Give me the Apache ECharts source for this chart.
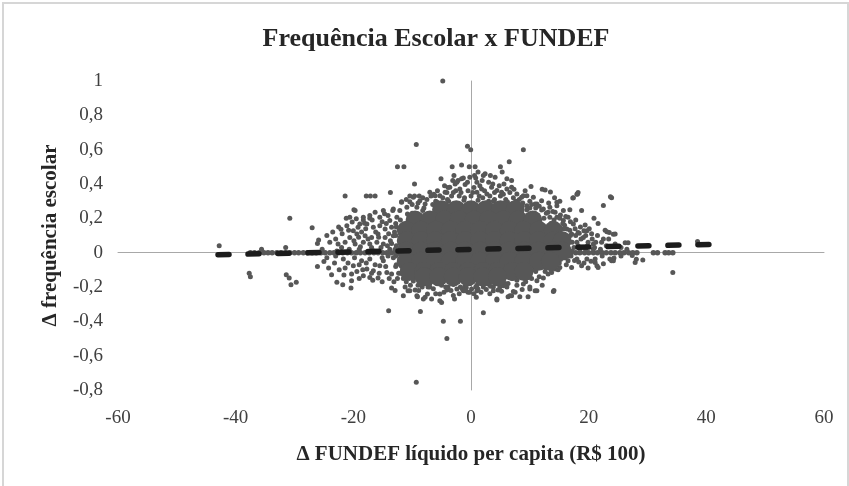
<!DOCTYPE html>
<html>
<head>
<meta charset="utf-8">
<script src="https://cdn.jsdelivr.net/npm/echarts@6/dist/echarts.min.js"></script>
<style>
  html, body { margin: 0; padding: 0; background: #fff; }
  #wrap { position: relative; width: 849px; height: 486px; overflow: hidden; }
  #chart { position: absolute; left: 0; top: 0; width: 849px; height: 486px; }
  #frame { position: absolute; left: 2px; top: 2px; width: 843px; height: 490px; border: 2px solid #d6d6d6; pointer-events: none; }
</style>
</head>
<body>
<div id="wrap"><div id="chart"></div><div id="frame"></div></div>
<script>
// ---- Data ----
const chartTitle = 'Frequência Escolar x FUNDEF';
const xAxisName = 'Δ FUNDEF líquido per capita (R$ 100)';
const yAxisName = 'Δ frequência escolar';
const xTicks = [-60, -40, -20, 0, 20, 40, 60];
const yTicks = [-0.8, -0.6, -0.4, -0.2, 0, 0.2, 0.4, 0.6, 0.8, 1];

// Dense centre of the cloud (overlapping municipalities)
const corePoints = [
  [-5,0.25],[-2.5,0.25],[0,0.25],[2.5,0.25],[5,0.25],[7.5,0.25],
  [-9.5,0.19],[-7,0.19],[-4.5,0.19],[-2,0.19],[0.5,0.19],[3,0.19],[5.5,0.19],[8,0.19],[10.5,0.19],
  [-11,0.13],[-8.5,0.13],[-6,0.13],[-3.5,0.13],[-1,0.13],[1.5,0.13],[4,0.13],[6.5,0.13],[9,0.13],[11.5,0.13],[14,0.13],
  [-11,0.07],[-8.5,0.07],[-6,0.07],[-3.5,0.07],[-1,0.07],[1.5,0.07],[4,0.07],[6.5,0.07],[9,0.07],[11.5,0.07],[14,0.07],[15.5,0.07],
  [-11,0.01],[-8.5,0.01],[-6,0.01],[-3.5,0.01],[-1,0.01],[1.5,0.01],[4,0.01],[6.5,0.01],[9,0.01],[11.5,0.01],[14,0.01],[15.5,0.01],
  [-11,-0.05],[-8.5,-0.05],[-6,-0.05],[-3.5,-0.05],[-1,-0.05],[1.5,-0.05],[4,-0.05],[6.5,-0.05],[9,-0.05],[11.5,-0.05],[13.5,-0.05],
  [-10.5,-0.11],[-8,-0.11],[-5.5,-0.11],[-3,-0.11],[-0.5,-0.11],[2,-0.11],[4.5,-0.11],[7,-0.11],[9,-0.11],
  [-8,-0.14],[-5.5,-0.14],[-3,-0.14],[-0.5,-0.14],[2,-0.14],[4.5,-0.14]
];

// Municipalities packed along the edge of the dense centre
const edgePoints = [
  [-6.5,0.28],[-3.8,0.3],[-1.2,0.305],[1.2,0.305],[3.8,0.3],[6.2,0.295],[8.7,0.27],
  [-8.2,0.245],[-10.8,0.225],[-12,0.19],[-5.8,0.295],
  [-12.7,0.15],[-12.8,0.1],[-12.7,0.04],[-12.8,-0.02],[-12.7,-0.07],[-12.3,-0.12],
  [-11.5,-0.15],[-9.8,-0.165],[-8.5,-0.185],
  [-7,-0.2],[-4.3,-0.2],[-1.8,-0.2],[0.8,-0.2],[3.3,-0.195],[5.8,-0.18],
  [7.8,-0.16],[9.8,-0.145],[10.8,-0.1],[12.7,-0.09],[14.5,-0.075],[15.2,-0.04],[16.6,-0.02],
  [17.2,0.01],[17.2,0.06],[16.9,0.1],[15.8,0.14],[13.6,0.17],[12.4,0.2],[10.8,0.23],[9.5,0.25]
];

// Municipalities with zero change in attendance
const zeroBandPoints = [
  [-37.5,0],[-36.8,0],[-36,0],[-35.2,0],[-34.5,0],[-33.8,0],[-33,0],[-32.3,0],[-31.5,0],[-30.8,0],
  [-30,0],[-29.3,0],[-28.5,0],[-27.8,0],[-27,0],[-26.3,0],[-25.5,0],[-24.8,0],[-24,0],[-23.3,0],
  [-22.5,0],[-21.8,0],[-21,0],[-20.3,0],[-19.5,0],[-18.8,0],[-18,0],[-17.3,0],[-16.5,0],[-15.8,0],
  [-15,0],[-14.3,0],[-13.5,0],[-12.8,0],
  [17,0],[17.8,0],[18.5,0],[19.3,0],[20,0],[20.8,0],[21.5,0],[22.3,0],[23,0],[23.8,0],[24.5,0],
  [25.3,0],[26,0],[26.8,0],[27.5,0],[28.2,0],[31,0],[31.7,0],[33,0],[33.6,0],[34.3,0]
];

// Isolated outliers
const outlierPoints = [
  [-4.8,1.0],[-9.3,0.63],[-0.6,0.62],[-0.05,0.6],[8.9,0.6],[-12.5,0.5],[-11.4,0.5],[-3.2,0.5],
  [-1.6,0.51],[-0.3,0.5],[0.7,0.5],[6.5,0.53],[5.0,0.5],[5.3,0.47],
  [-21.4,0.33],[-17.8,0.33],[-17.1,0.33],[-16.3,0.33],[-13.7,0.35],[-9.6,0.4],[-10.4,0.33],[-9.6,0.33],[-8.8,0.33],
  [10.2,0.385],[12.1,0.37],[12.6,0.365],[13.5,0.354],[18.0,0.34],[17.4,0.32],[23.9,0.32],[22.5,0.275],[18.8,0.245],
  [-42.8,0.04],[-37.7,-0.12],[-37.5,-0.14],[-35.6,0.02],[-31.5,0.03],[-30.8,0.2],[-31.4,-0.128],[-30.9,-0.148],
  [-29.7,-0.173],[-30.6,-0.187],[-27,0.145],[-26.1,0.054],[-25.9,0.074],[-24.5,0.1],[-26.1,-0.08],[-25,-0.051],
  [-23.7,-0.128],[-22.8,-0.173],
  [-14,-0.338],[-8.6,-0.342],[-4.7,-0.4],[-1.8,-0.4],[-4.1,-0.5],[2.1,-0.35],[-9.3,-0.755],
  [38.5,0.065],[34.3,-0.115],[27.9,-0.057],[29.2,-0.043],[23.7,0.326],[22.8,0.13],[23.5,0.117],[24.2,0.107],
  [26.2,0.058],[26.7,0.058],[28.1,-0.039],[27.4,-0.016],[14.1,-0.22]
];

// Left side of the cloud
const leftPoints = [
  [-19.9,0.25],[-19.5,0.197],[-18.3,0.19],[-18.1,0.171],[-17.2,0.216],[-14.7,0.226],[-13.3,0.245],[-12.1,0.245],
  [-11.8,0.297],[-10.4,0.297],[-22.5,0.15],[-22.1,0.136],[-20.2,0.179],
  [-14.9,0.245],[-14.1,0.216],[-13.2,0.255],[-12.6,0.206],[-13.8,0.187],[-15.5,0.206],[-16.3,0.235],[-17.2,0.2],
  [-18.3,0.206],[-18.9,0.167],[-19.7,0.245],[-20.6,0.206],
  [-21.1,0.157],[-20,0.128],[-19.2,0.148],[-17.7,0.167],[-16.6,0.148],[-15.5,0.157],[-14.6,0.138],[-13.5,0.148],
  [-20.6,0.089],[-19.4,0.109],[-18,0.099],[-16.9,0.089],[-15.8,0.109],[-14.6,0.089],[-13.2,0.099],
  [-21.4,0.06],[-19.7,0.051],[-18.3,0.06],[-17.2,0.051],[-16,0.06],[-14.9,0.051],[-13.5,0.054],
  [-21.7,-0.037],[-21.4,-0.089],[-20,-0.076],[-19.4,-0.109],[-18.3,-0.134],[-17.2,-0.144],[-15.8,-0.148],
  [-20.3,-0.124],[-17.7,-0.095],[-16.6,-0.105],[-15.5,-0.076],[-14.3,-0.115],[-13.5,-0.124],[-14.9,-0.047],
  [-17.2,-0.037],[-18.6,-0.047],[-21.8,-0.187],[-20.4,-0.206],[-20.3,-0.163],[-13.5,-0.206],
  [-12.8,0.17],[-13,0.12],[-12.9,0.02],[-13.2,-0.03],[-12.8,-0.08],[-12.5,-0.15],[-13.8,0.02],[-16.5,0.01],
  [-19,0.02],[-22,0.03],[-23,-0.02],[-24.5,-0.03],
  [-23.5,0.12],[-23,0.08],[-22.6,0.05],[-21.9,0.11],[-21.2,0.2],[-20.8,0.13],[-19.9,0.07],[-19.1,0.09],
  [-18.6,0.12],[-17.9,0.14],[-17.5,0.08],[-16.8,0.19],[-16.2,0.12],[-15.7,0.09],[-15.1,0.18],[-14.4,0.17],
  [-14,0.11],[-13.7,0.07],[-14.2,0.04],[-15.3,0.03],[-16.9,0.03],[-18.8,0.035],[-20.7,0.02],[-22.8,0.01],
  [-23.2,-0.06],[-22.4,-0.1],[-21.6,-0.13],[-20.9,-0.06],[-19.8,-0.03],[-19,-0.07],[-18.4,-0.1],[-17.8,-0.06],
  [-16.9,-0.12],[-16.3,-0.07],[-15.6,-0.12],[-15.1,-0.03],[-14.5,-0.08],[-13.9,-0.15],[-14.1,-0.02],[-13.1,-0.17],
  [-12.9,-0.22],[-15.1,-0.17],[-16.7,-0.16],[-19,-0.15],[-24.2,-0.09],[-25.3,0.02],[-24,0.06]
];

// Upper edge of the cloud
const topPoints = [
  [-7,0.352],[-6.1,0.332],[-5.3,0.332],[-4.4,0.352],[-3.6,0.381],[-2.7,0.4],[-2.2,0.42],[-1.3,0.435],[-1.9,0.371],[-1,0.397],
  [1,0.352],[1.8,0.371],[2.7,0.342],[3.5,0.381],[4.4,0.362],[5.2,0.352],[6.1,0.371],[6.9,0.381],[7.8,0.342],[8.6,0.323],
  [9.5,0.332],[10.6,0.323],[-9.8,0.323],[-8.7,0.303],[-7.8,0.284],[-9.2,0.264],[-10.9,0.264],[-11.8,0.293],
  [-5.1,0.43],[-2.4,0.41],[-1.6,0.43],[0.8,0.435],[1,0.41],[2.1,0.45],[1.9,0.42],[-3.9,0.38],[-4.1,0.35],
  [2.4,0.46],[3.7,0.4],[6.1,0.43],[6.9,0.42],[5.6,0.4],[-6.3,0.34],
  [12,0.303],[15.1,0.3],[14.6,0.274],[14.3,0.235],[13.1,0.235],[12,0.249],[10.9,0.284],[9.5,0.274],[8.9,0.332],[7.2,0.32],
  [-6,0.3],[-4,0.31],[-2,0.33],[0,0.33],[2,0.32],[4,0.31],[6,0.3],[8,0.28],[10,0.26],[-8,0.26],[-10,0.23],
  [-3,0.35],[3,0.3],[0.5,0.38],[-0.5,0.36],[5,0.33],
  [-11,0.31],[-10,0.28],[-9,0.29],[-8.2,0.32],[-7.5,0.31],[-6.8,0.33],[-5.7,0.36],[-4.8,0.32],[-4.5,0.39],
  [-3.3,0.33],[-3.1,0.42],[-2.6,0.36],[-1.7,0.35],[-1.1,0.32],[-0.6,0.41],[0.3,0.35],[0.6,0.45],[1.4,0.33],
  [1.5,0.39],[2.3,0.36],[3,0.41],[3.2,0.33],[4,0.35],[4.1,0.44],[4.8,0.39],[5.5,0.34],[5.9,0.31],[6.6,0.35],
  [7.3,0.37],[7.6,0.3],[8.2,0.31],[8.8,0.29],[9.2,0.36],[10,0.3],[10.3,0.28],[11,0.26],[11.6,0.27],
  [-2.9,0.45],[-0.2,0.44],[1.2,0.47],[3.3,0.45]
];

// Right side of the cloud
const rightPoints = [
  [11.2,0.284],[12.3,0.255],[13.4,0.264],[14.6,0.293],[15.7,0.245],[16.5,0.206],[17.4,0.167],[18.2,0.118],[19.1,0.089],
  [19.9,0.06],[19.7,0.128],[18,0.06],[17.1,0.109],[15.7,0.187],[14.6,0.206],[13.4,0.206],[15.1,0.148],[16.3,0.138],
  [18.2,0.35],[17.3,0.319],[18.1,0.342],[19.4,0.161],[19.2,0.128],[18.4,0.113],[23.1,0.122],[24.5,0.109],
  [22.5,0.08],[22.2,0.06],[20.8,0.05],[21,0.03],[23,0.04],[24.5,0.05],[25.5,0.03],[20.5,0.11],[16.8,0.13],[15.6,0.17],
  [15.1,0.2],[17.5,0.03],[18.5,0.02],[19.5,0.02],[17,-0.02],
  [21.1,-0.037],[21.4,-0.076],[21.6,-0.086],[23.9,-0.047],[24.3,-0.031],
  [17.1,-0.086],[18.8,-0.076],[21.1,-0.057],[23.6,-0.037],[24.2,-0.047],[19.7,-0.037],[18,-0.037],[16.5,-0.047],
  [11.2,-0.163],[12.3,-0.148],[13.1,-0.124],[13.7,-0.115],[14.3,-0.095],[15.1,-0.086],
  [12.8,0.23],[13.9,0.24],[14.1,0.19],[15.2,0.22],[15.9,0.16],[16.1,0.21],[16.9,0.18],[17.7,0.14],[17.8,0.19],
  [18.6,0.15],[18.7,0.08],[19.5,0.1],[20.1,0.14],[20.6,0.08],[21.2,0.06],[21.5,0.1],[19.8,0.04],[18.2,0.04],
  [17.8,0.1],[20.8,0.02],[22,0.02],[23.4,0.08],[22.3,-0.02],[20.4,-0.05],[19.2,-0.06],[18.3,-0.055],[17.6,-0.045],
  [16.2,-0.07],[19.9,-0.09],[22.5,-0.065],[25.5,-0.02],[26.5,0.02],[16.8,0.25],[13.2,0.29],[14.2,0.32],[20.9,0.2],[21.6,0.17]
];

// Lower edge of the cloud
const bottomPoints = [
  [-11.2,-0.2],[-10.4,-0.222],[-11.5,-0.251],[-9.2,-0.251],[-8.1,-0.27],[-7.3,-0.2],[-5.3,-0.241],[-5,-0.29],
  [-3.9,-0.2],[-2.4,-0.212],[-1.3,-0.222],[-0.5,-0.231],[0.1,-0.212],[1,-0.222],[2.1,-0.2],[2.9,-0.183],
  [-10.7,-0.222],[-9.5,-0.218],[-9.1,-0.257],[-7.8,-0.26],[-7.4,-0.241],[-5.3,-0.28],[-4.1,-0.218],
  [-1,-0.222],[-0.2,-0.231],[1.2,-0.212],[3.8,-0.2],[4.4,-0.27],[5.5,-0.193],[6.6,-0.251],[7.5,-0.231],[8.3,-0.257],
  [9.7,-0.257],[10,-0.212],[11.2,-0.222],[14,-0.226],[4.4,-0.276],[3.8,-0.222],[4.6,-0.218],[6.3,-0.257],
  [6.9,-0.251],[7.2,-0.226],[10.9,-0.222],[8.9,-0.183],[10,-0.2],
  [-9,-0.19],[-7,-0.18],[-5,-0.19],[-3,-0.185],[-1,-0.19],[1,-0.19],[3,-0.175],[5,-0.165],[7,-0.15],[9,-0.13],
  [11,-0.11],[13,-0.085],[15,-0.06],[16,-0.03],[-11,-0.17],[-12,-0.12],
  [-10.3,-0.19],[-8.9,-0.22],[-8.3,-0.2],[-6.4,-0.21],[-6,-0.24],[-4.6,-0.23],[-3.4,-0.22],[-3,-0.25],[-2,-0.24],
  [-0.8,-0.205],[0.5,-0.24],[1.7,-0.23],[2.6,-0.215],[3.2,-0.24],[4.9,-0.2],[5.2,-0.225],[6.1,-0.2],[6.3,-0.18],
  [7.8,-0.19],[8.7,-0.215],[9.3,-0.17],[10.3,-0.15],[11.6,-0.14],[12.6,-0.11],[13.6,-0.1],[14.8,-0.1],[12.1,-0.19],
  [-6.7,-0.27],[-2.8,-0.27],[0.9,-0.26],[-1.5,-0.21]
];

// Linear trend (dashed)
const trendX = [-43, 41];
const trendY = [-0.012, 0.048];

// ---- Chart ----
const serif = '"Liberation Serif", "DejaVu Serif", serif';
const dotColor = '#575757';
const fmtNum = v => String(Math.round(v * 10) / 10).replace('.', ',');
const scatterPoints = [].concat(outlierPoints, leftPoints, topPoints, rightPoints, bottomPoints, edgePoints);

const chart = echarts.init(document.getElementById('chart'), null, { renderer: 'canvas' });
chart.setOption({
  animation: false,
  backgroundColor: '#ffffff',
  title: {
    text: chartTitle,
    left: 431, top: 21, textAlign: 'center',
    textStyle: { fontFamily: serif, fontSize: 26, fontWeight: 'bold', color: '#262626' }
  },
  grid: { left: 118, right: 25, top: 81, bottom: 96, containLabel: false },
  xAxis: [
    {
      type: 'value', min: xTicks[0], max: xTicks[xTicks.length - 1], interval: 20,
      axisLine: { show: false, onZero: false }, axisTick: { show: false }, splitLine: { show: false },
      axisLabel: { fontFamily: serif, fontSize: 19, color: '#404040', margin: 19, formatter: fmtNum },
      name: xAxisName, nameLocation: 'middle', nameGap: 54,
      nameTextStyle: { fontFamily: serif, fontSize: 21, fontWeight: 'bold', color: '#262626' }
    },
    {
      type: 'value', min: xTicks[0], max: xTicks[xTicks.length - 1], interval: 20,
      axisLine: { show: true, onZero: true, lineStyle: { color: '#a8a8a8', width: 1 } },
      axisTick: { show: false }, axisLabel: { show: false }, splitLine: { show: false }
    }
  ],
  yAxis: [
    {
      type: 'value', min: yTicks[0], max: yTicks[yTicks.length - 1], interval: 0.2,
      axisLine: { show: false, onZero: false }, axisTick: { show: false }, splitLine: { show: false },
      axisLabel: { fontFamily: serif, fontSize: 19, color: '#404040', margin: 15, formatter: fmtNum },
      name: yAxisName, nameLocation: 'middle', nameGap: 57, nameRotate: 90,
      nameTextStyle: { fontFamily: serif, fontSize: 21, fontWeight: 'bold', color: '#262626' }
    },
    {
      type: 'value', min: yTicks[0], max: yTicks[yTicks.length - 1], interval: 0.2,
      axisLine: { show: true, onZero: true, lineStyle: { color: '#a8a8a8', width: 1 } },
      axisTick: { show: false }, axisLabel: { show: false }, splitLine: { show: false }
    }
  ],
  series: [
    {
      type: 'scatter', name: 'zero', data: zeroBandPoints, symbolSize: 5.5,
      itemStyle: { color: dotColor, opacity: 1 }, z: 3, silent: true
    },
    {
      type: 'scatter', name: 'points', data: scatterPoints, symbolSize: 5,
      itemStyle: { color: dotColor, opacity: 1 }, z: 3, silent: true
    },
    {
      type: 'scatter', name: 'core', data: corePoints, symbolSize: 19,
      itemStyle: { color: dotColor, opacity: 1 }, z: 3, silent: true
    },
    {
      type: 'line', name: 'trend', data: trendX.map((x, i) => [x, trendY[i]]),
      showSymbol: false, symbol: 'none', z: 5, silent: true,
      lineStyle: { color: '#1c1c1c', width: 5.5, type: [11, 19], cap: 'round' }
    }
  ]
});
</script>
</body>
</html>
